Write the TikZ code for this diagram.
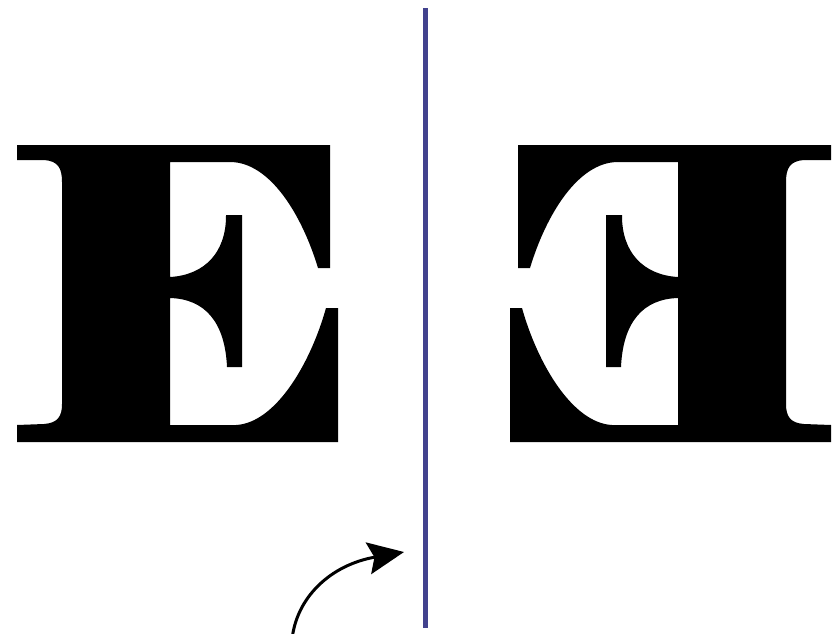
\documentclass[tikz,border=0pt]{standalone}
\usetikzlibrary{arrows.meta}
\definecolor{mirrorblue}{RGB}{66,66,142}
\tikzset{
  glyph/.style={fill=black, draw=none},
  mirrorline/.style={draw=mirrorblue, line width=5pt},
  turnarrow/.style={draw=black, line width=3pt, -{Stealth[length=36pt,width=32pt,inset=6pt]}}
}
\newcommand\drawbigE{%
  \path[glyph]
    (17,145) -- (330,145) -- (330,268) -- (318,268)
    .. controls (302,215) and (270,162) .. (230,162)
    -- (170,162) -- (170,277)
    .. controls (205,275) and (226,252) .. (226,216)
    -- (226,215) -- (242,215) -- (242,367) -- (227,367)
    .. controls (225,322) and (205,299) .. (170,298)
    -- (170,425) -- (236,425)
    .. controls (275,423) and (310,365) .. (326,308)
    -- (338,308) -- (338,442) -- (17,442) -- (17,425)
    -- (44,424) .. controls (58,423) and (62,416) .. (62,404)
    -- (62,182) .. controls (62,168) and (58,161) .. (44,160)
    -- (17,160) -- cycle;}
\begin{document}
\begin{tikzpicture}[x=1pt,y=-1pt]
  \path[use as bounding box] (0,0) rectangle (836,633);
  \drawbigE
  \begin{scope}[xshift=848pt]
    \begin{scope}[xscale=-1]
      \drawbigE
    \end{scope}
  \end{scope}
  \coordinate (linetop) at (425,8);
  \coordinate (linebot) at (425,628);
  \draw[mirrorline] (linetop) -- (linebot);
  \coordinate (tail) at (292,640);
  \coordinate (tip) at (404,552);
  \draw[turnarrow] (tail) .. controls (296,598) and (330,565) .. (tip);
\end{tikzpicture}
\end{document}
